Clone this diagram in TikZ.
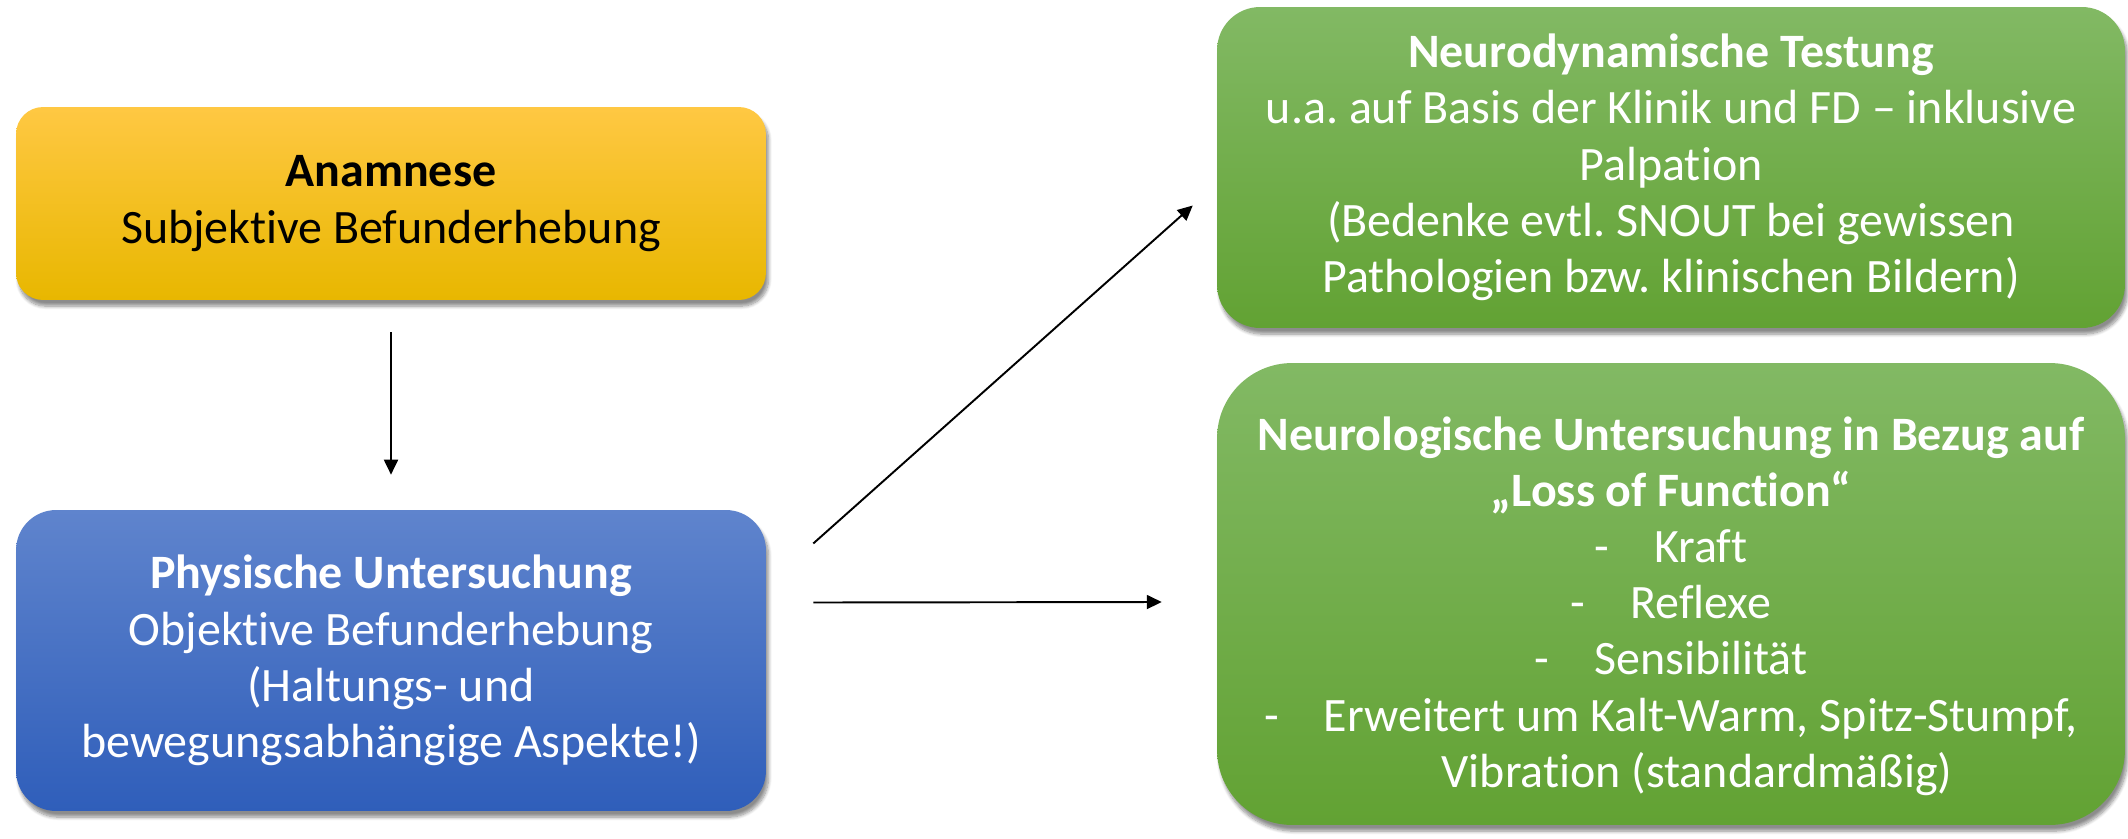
\documentclass[tikz,border=0pt]{standalone}
\usepackage{fontspec}
\setmainfont{Carlito}[Ligatures=NoCommon]
\frenchspacing
\usetikzlibrary{calc,arrows.meta,shadows.blur}
\definecolor{yTop}{HTML}{FFC843}
\definecolor{yMid}{HTML}{FFC000}
\definecolor{yBot}{HTML}{E8B700}
\definecolor{bTop}{HTML}{5F84CD}
\definecolor{bMid}{HTML}{4670C6}
\definecolor{bBot}{HTML}{2F5EBA}
\definecolor{gTop}{HTML}{82B964}
\definecolor{gMid}{HTML}{70AD47}
\definecolor{gBot}{HTML}{62A233}
\begin{document}
\begin{tikzpicture}[x=0.02cm,y=-0.02cm,
  txt/.style={align=center, inner sep=0pt, font=\fontsize{27.3}{32}\selectfont},
  box/.style={rectangle, txt,
    blur shadow={shadow xshift=1.5pt, shadow yshift=-3.5pt, shadow blur steps=8, shadow opacity=45}},
  ybox/.style={box, top color=yTop, middle color=yMid, bottom color=yBot, text=black,
    minimum width=15cm, minimum height=3.86cm, rounded corners=0.54cm},
  bbox/.style={box, top color=bTop, middle color=bMid, bottom color=bBot, text=white,
    minimum width=15cm, minimum height=6.02cm, rounded corners=0.8cm},
  gbox/.style={box, top color=gTop, middle color=gMid, bottom color=gBot, text=white,
    minimum width=18.16cm},
  arr/.style={draw=black, line width=1.1pt, -{Triangle[length=0.3cm,width=0.28cm]}}]
\useasboundingbox (0,0) rectangle (2128,838);

\node[ybox] (anam) at (391,203.5) {\textbf{Anamnese}\\Subjektive Befunderhebung};

\node[bbox] (phys) at (391,660.5) {\textbf{Physische Untersuchung}\\Objektive Befunderhebung\\(Haltungs- und\\bewegungsabhängige Aspekte!)};

\node[gbox, minimum height=6.42cm, rounded corners=0.86cm] (neurodyn) at (1671,167.5)
  {\textbf{Neurodynamische Testung}\\u.a. auf Basis der Klinik und FD – inklusive\\Palpation\\(Bedenke evtl. SNOUT bei gewissen\\Pathologien bzw. klinischen Bildern)};

\node[gbox, minimum height=9.24cm, rounded corners=1.5cm] (neurolog) at (1671,594) {};
\node[txt, text=white] (neurologtext) at ($(neurolog.center)+(0,12)$)
  {\textbf{Neurologische Untersuchung in Bezug auf}\\\textbf{„Loss of Function“}\\
   -\hspace{0.9cm}Kraft\\
   -\hspace{0.9cm}Reflexe\\
   -\hspace{0.9cm}Sensibilität\\
   -\hspace{0.9cm}Erweitert um Kalt-Warm, Spitz-Stumpf,\\
   \hspace*{1.04cm}Vibration (standardmäßig)};

\draw[arr] ($(anam.south)+(0,32)$) -- ($(phys.north)+(0,-35)$);
\coordinate (d1) at ($(phys.east)+(47,-117)$);
\coordinate (h1) at ($(phys.east)+(47,-58)$);
\draw[arr] (d1) -- ($(neurodyn.west)+(-24,38)$);
\draw[arr] (h1) -- ($(neurolog.west)+(-55,8)$);
\end{tikzpicture}
\end{document}
